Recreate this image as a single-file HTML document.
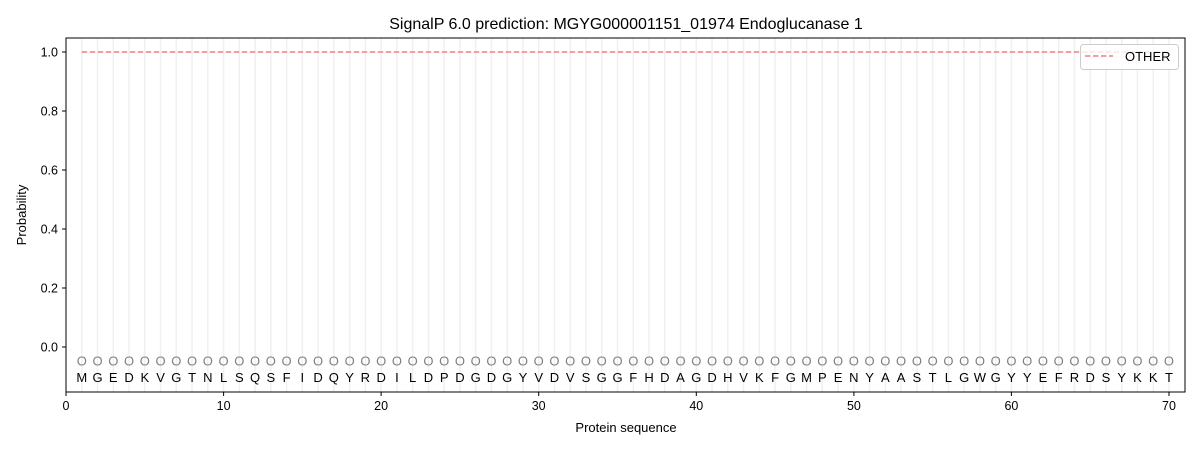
<!DOCTYPE html>
<html><head><meta charset="utf-8"><style>
html,body{margin:0;padding:0;background:#fff;}
svg{display:block;font-family:"Liberation Sans","DejaVu Sans",sans-serif;}
</style></head><body>
<svg id="s" width="1200" height="450" viewBox="0 0 1200 450">
<rect width="1200" height="450" fill="#fff"/>
<g id="grid"></g>
<line x1="81.76" y1="52" x2="1169" y2="52" stroke="#f08080" stroke-width="1.5" stroke-dasharray="5.5,2.5"/>
<text id="os" y="365.5" font-size="13" fill="#808080">OOOOOOOOOOOOOOOOOOOOOOOOOOOOOOOOOOOOOOOOOOOOOOOOOOOOOOOOOOOOOOOOOOOOOO</text>
<text id="aa" y="382" font-size="13" fill="#000">MGEDKVGTNLSQSFIDQYRDILDPDGDGYVDVSGGFHDAGDHVKFGMPENYAASTLGWGYYEFRDSYKKT</text>
<rect x="66" y="38" width="1119" height="354" fill="none" stroke="#000" stroke-width="1"/>
<g font-size="12.5" fill="#000" text-anchor="middle">
<line x1="66" y1="392" x2="66" y2="396" stroke="#000"/><text x="66" y="410">0</text>
<line x1="223.6" y1="392" x2="223.6" y2="396" stroke="#000"/><text x="223.6" y="410">10</text>
<line x1="381.1" y1="392" x2="381.1" y2="396" stroke="#000"/><text x="381.1" y="410">20</text>
<line x1="538.7" y1="392" x2="538.7" y2="396" stroke="#000"/><text x="538.7" y="410">30</text>
<line x1="696.3" y1="392" x2="696.3" y2="396" stroke="#000"/><text x="696.3" y="410">40</text>
<line x1="853.9" y1="392" x2="853.9" y2="396" stroke="#000"/><text x="853.9" y="410">50</text>
<line x1="1011.4" y1="392" x2="1011.4" y2="396" stroke="#000"/><text x="1011.4" y="410">60</text>
<line x1="1169" y1="392" x2="1169" y2="396" stroke="#000"/><text x="1169" y="410">70</text>
<text x="626" y="432" font-size="13">Protein sequence</text>
<text x="626" y="29" font-size="16">SignalP 6.0 prediction: MGYG000001151_01974 Endoglucanase 1</text>
</g>
<g font-size="12.5" fill="#000" text-anchor="end">
<line x1="62" y1="347" x2="66" y2="347" stroke="#000"/><text x="58" y="351.5">0.0</text>
<line x1="62" y1="288" x2="66" y2="288" stroke="#000"/><text x="58" y="292.5">0.2</text>
<line x1="62" y1="229" x2="66" y2="229" stroke="#000"/><text x="58" y="233.5">0.4</text>
<line x1="62" y1="170" x2="66" y2="170" stroke="#000"/><text x="58" y="174.5">0.6</text>
<line x1="62" y1="111" x2="66" y2="111" stroke="#000"/><text x="58" y="115.5">0.8</text>
<line x1="62" y1="52" x2="66" y2="52" stroke="#000"/><text x="58" y="56.5">1.0</text>
</g>
<text transform="translate(26,215) rotate(-90)" font-size="13" text-anchor="middle">Probability</text>
<rect x="1080.5" y="44.5" width="98" height="25" rx="3" fill="#fff" fill-opacity="0.8" stroke="#ccc"/>
<line x1="1085" y1="56" x2="1113" y2="56" stroke="#f08080" stroke-width="1.5" stroke-dasharray="5.5,2.5"/>
<text x="1125" y="61" font-size="13">OTHER</text>
</svg>
<script>
var xs=[];for(var i=1;i<=70;i++)xs.push((66+i*15.757).toFixed(2));
document.getElementById('os').setAttribute('x',xs.join(' '));
document.getElementById('aa').setAttribute('x',xs.join(' '));
document.getElementById('os').setAttribute('text-anchor','middle');
document.getElementById('aa').setAttribute('text-anchor','middle');
var g=document.getElementById('grid'),h='';
xs.forEach(function(x){h+='<line x1="'+x+'" y1="38" x2="'+x+'" y2="392" stroke="#f0f0f0" stroke-width="1.5"/>';});
g.innerHTML=h;
</script>
</body></html>
